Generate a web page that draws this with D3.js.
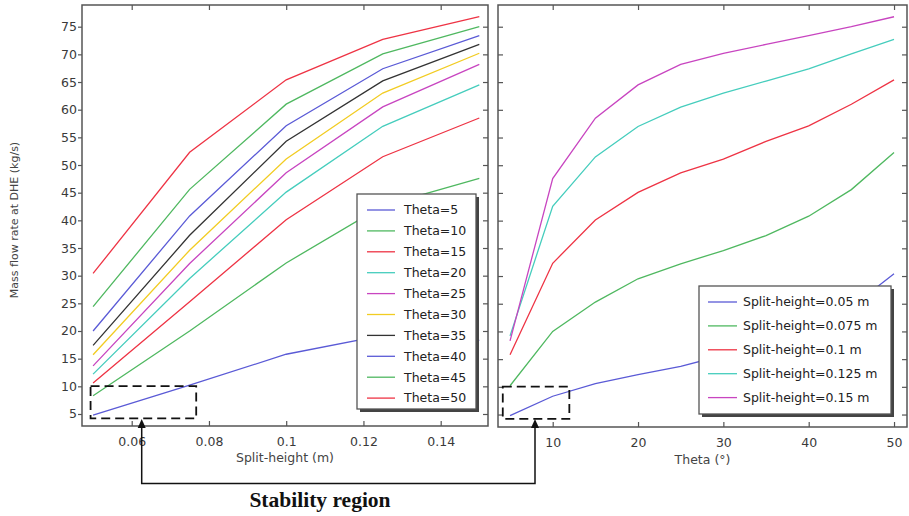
<!DOCTYPE html>
<html>
<head>
<meta charset="utf-8">
<script src="https://cdn.jsdelivr.net/npm/d3@7/dist/d3.min.js"></script>
<style>
  html, body { margin: 0; padding: 0; background: #fff; }
  svg { display: block; }
  text { font-family: "DejaVu Sans", sans-serif; }
</style>
</head>
<body>
<svg id="chart" width="909" height="516"></svg>
<script>
// ---------------- DATA ----------------
const splitHeights = [0.05, 0.075, 0.1, 0.125, 0.15];          // m
const thetas = [5, 10, 15, 20, 25, 30, 35, 40, 45, 50];        // degrees
const leftXTicks = [0.06, 0.08, 0.1, 0.12, 0.14];
const rightXTicks = [10, 20, 30, 40, 50];
const yTicks = [5, 10, 15, 20, 25, 30, 35, 40, 45, 50, 55, 60, 65, 70, 75];

// Mass flow rate (kg/s) vs split-height, one array per theta
const theta5  = [4.8, 10.2, 15.8, 19.2, 18.3];
const theta10 = [8.3, 20.0, 32.3, 42.6, 47.6];
const theta15 = [10.6, 25.3, 40.1, 51.5, 58.5];
const theta20 = [12.2, 29.5, 45.1, 57.0, 64.5];
const theta25 = [13.7, 32.2, 48.6, 60.5, 68.2];
const theta30 = [15.7, 34.6, 51.1, 63.0, 70.2];
const theta35 = [17.4, 37.3, 54.3, 65.2, 71.8];
const theta40 = [20.0, 40.8, 57.1, 67.4, 73.4];
const theta45 = [24.4, 45.6, 61.0, 70.1, 75.0];
const theta50 = [30.4, 52.3, 65.4, 72.7, 76.8];
const thetaSeries = [theta5, theta10, theta15, theta20, theta25, theta30, theta35, theta40, theta45, theta50];
const thetaLabels = thetas.map(t => "Theta=" + t);
const splitLabels = ["Split-height=0.05 m", "Split-height=0.075 m", "Split-height=0.1 m", "Split-height=0.125 m", "Split-height=0.15 m"];
const annotationText = "Stability region";

// ---------------- STYLE ----------------
const C = { blue: "#5a5ad6", green: "#4fb860", red: "#ee3344", cyan: "#45cdbd", magenta: "#c845c0", yellow: "#f2cc22", black: "#333333" };
const leftColors = [C.blue, C.green, C.red, C.cyan, C.magenta, C.yellow, C.black, C.blue, C.green, C.red];
const rightColors = [C.blue, C.green, C.red, C.cyan, C.magenta];

const svg = d3.select("#chart");
const L = { x0: 82, x1: 488, y0: 5, y1: 426 };
const R = { x0: 498, x1: 907, y0: 5, y1: 427 };

const yL = d3.scaleLinear().domain([2.83, 78.92]).range([L.y1, L.y0]);
const yR = d3.scaleLinear().domain([2.75, 78.92]).range([R.y1, R.y0]);
const xL = d3.scaleLinear().domain([0.04713, 0.15225]).range([L.x0, L.x1]);
const xR = d3.scaleLinear().domain([3.59, 51.52]).range([R.x0, R.x1]);

const defs = svg.append("defs");
defs.append("clipPath").attr("id", "clipL").append("rect")
  .attr("x", L.x0).attr("y", L.y0).attr("width", L.x1 - L.x0).attr("height", L.y1 - L.y0);
defs.append("clipPath").attr("id", "clipR").append("rect")
  .attr("x", R.x0).attr("y", R.y0).attr("width", R.x1 - R.x0).attr("height", R.y1 - R.y0);

function styleAxis(g) {
  g.select(".domain").remove();
  g.selectAll(".tick line").attr("stroke", "#555").attr("stroke-width", 1.2);
  g.selectAll(".tick text").attr("fill", "#3a3a3a").style("font-size", "12.5px").style("font-family", "DejaVu Sans, sans-serif");
}

// ---------- LEFT PANEL ----------
const gL = svg.append("g");
gL.append("g").attr("transform", `translate(0,${L.y1})`)
  .call(d3.axisBottom(xL).tickValues(leftXTicks).tickFormat(d3.format("~g")).tickSize(-5).tickPadding(11))
  .call(styleAxis);
gL.append("g").attr("transform", `translate(0,${L.y0})`)
  .call(d3.axisTop(xL).tickValues(leftXTicks).tickSize(-5).tickFormat(""))
  .call(styleAxis);
gL.append("g").attr("transform", `translate(${L.x0},0)`)
  .call(d3.axisLeft(yL).tickValues(yTicks).tickSize(4).tickPadding(1))
  .call(styleAxis);
gL.append("g").attr("transform", `translate(${L.x1},0)`)
  .call(d3.axisRight(yL).tickValues(yTicks).tickSize(-5).tickFormat(""))
  .call(styleAxis);

const lineL = d3.line().x((d, i) => xL(splitHeights[i])).y(d => yL(d));
gL.append("g").attr("clip-path", "url(#clipL)")
  .selectAll("path").data(thetaSeries).join("path")
  .attr("d", lineL).attr("fill", "none")
  .attr("stroke", (d, i) => leftColors[i]).attr("stroke-width", 1.3);

gL.append("rect").attr("x", L.x0).attr("y", L.y0).attr("width", L.x1 - L.x0).attr("height", L.y1 - L.y0)
  .attr("fill", "none").attr("stroke", "#555").attr("stroke-width", 1.5);

// ---------- RIGHT PANEL ----------
const gR = svg.append("g");
gR.append("g").attr("transform", `translate(0,${R.y1})`)
  .call(d3.axisBottom(xR).tickValues(rightXTicks).tickSize(-5).tickPadding(11))
  .call(styleAxis);
gR.append("g").attr("transform", `translate(0,${R.y0})`)
  .call(d3.axisTop(xR).tickValues(rightXTicks).tickSize(-5).tickFormat(""))
  .call(styleAxis);
gR.append("g").attr("transform", `translate(${R.x0},0)`)
  .call(d3.axisLeft(yR).tickValues(yTicks).tickSize(-5).tickFormat(""))
  .call(styleAxis);
gR.append("g").attr("transform", `translate(${R.x1},0)`)
  .call(d3.axisRight(yR).tickValues(yTicks).tickSize(-5).tickFormat(""))
  .call(styleAxis);

const rightSeries = splitHeights.map((s, j) => thetaSeries.map(arr => arr[j]));
const lineR = d3.line().x((d, i) => xR(thetas[i])).y(d => yR(d));
gR.append("g").attr("clip-path", "url(#clipR)")
  .selectAll("path").data(rightSeries).join("path")
  .attr("d", lineR).attr("fill", "none")
  .attr("stroke", (d, i) => rightColors[i]).attr("stroke-width", 1.3);

gR.append("rect").attr("x", R.x0).attr("y", R.y0).attr("width", R.x1 - R.x0).attr("height", R.y1 - R.y0)
  .attr("fill", "none").attr("stroke", "#555").attr("stroke-width", 1.5);

// ---------- LEGENDS ----------
function legend(box, labels, colors, rowStep, firstRow, lineX0, lineX1, textX) {
  const g = svg.append("g");
  g.append("rect").attr("x", box.x + 3).attr("y", box.y + 3).attr("width", box.w).attr("height", box.h).attr("fill", "#444");
  g.append("rect").attr("x", box.x).attr("y", box.y).attr("width", box.w).attr("height", box.h)
    .attr("fill", "#fff").attr("stroke", "#555").attr("stroke-width", 1.3);
  const rows = g.selectAll("g.row").data(labels).join("g").attr("class", "row")
    .attr("transform", (d, i) => `translate(0,${firstRow + i * rowStep})`);
  rows.append("line").attr("x1", lineX0).attr("x2", lineX1).attr("y1", 0).attr("y2", 0)
    .attr("stroke", (d, i) => colors[i]).attr("stroke-width", 1.3);
  rows.append("text").attr("x", textX).attr("y", 0).attr("dy", "0.35em")
    .attr("fill", "#222").style("font-size", "12.5px").text(d => d);
}
legend({ x: 357, y: 194, w: 119, h: 215 }, thetaLabels, leftColors, 20.9, 210, 367, 395, 404);
legend({ x: 699, y: 286, w: 192, h: 128 }, splitLabels, rightColors, 23.9, 302, 708, 737, 743);

// ---------- AXIS TITLES ----------
svg.append("text").attr("x", (L.x0 + L.x1) / 2).attr("y", 462).attr("text-anchor", "middle")
  .attr("fill", "#444").style("font-size", "12.5px").text("Split-height (m)");
svg.append("text").attr("x", (R.x0 + R.x1) / 2).attr("y", 464).attr("text-anchor", "middle")
  .attr("fill", "#444").style("font-size", "12.5px").text("Theta (°)");
svg.append("text").attr("transform", "translate(18,220) rotate(-90)").attr("text-anchor", "middle")
  .attr("fill", "#444").style("font-size", "11px").text("Mass flow rate at DHE (kg/s)");

// ---------- STABILITY ANNOTATION ----------
const ann = svg.append("g");
const dash = "9,5";
// dashed boxes around low-flow region (in data coordinates)
const boxL = { x0: 0.04935, x1: 0.0767, v0: 4.2, v1: 10.05 };
const boxR = { x0: 4.15, x1: 11.95, v0: 4.2, v1: 10.05 };
ann.append("rect").attr("x", xL(boxL.x0)).attr("y", yL(boxL.v1))
  .attr("width", xL(boxL.x1) - xL(boxL.x0)).attr("height", yL(boxL.v0) - yL(boxL.v1))
  .attr("fill", "none").attr("stroke", "#111").attr("stroke-width", 1.8).attr("stroke-dasharray", dash);
ann.append("rect").attr("x", xR(boxR.x0)).attr("y", yR(boxR.v1))
  .attr("width", xR(boxR.x1) - xR(boxR.x0)).attr("height", yR(boxR.v0) - yR(boxR.v1))
  .attr("fill", "none").attr("stroke", "#111").attr("stroke-width", 1.8).attr("stroke-dasharray", dash);

const ax1 = 141.7, ax2 = 535, tipY = 419, baseY = 483.5;
ann.append("path").attr("d", `M${ax1},${tipY + 7}V${baseY}H${ax2}V${tipY + 7}`)
  .attr("fill", "none").attr("stroke", "#111").attr("stroke-width", 1.5);
[ax1, ax2].forEach(x => {
  ann.append("path").attr("d", `M${x},${tipY}L${x - 4},${tipY + 9}L${x + 4},${tipY + 9}Z`).attr("fill", "#111");
});
ann.append("text").attr("x", 320).attr("y", 507).attr("text-anchor", "middle")
  .style("font-family", "'Liberation Serif', 'Times New Roman', serif").style("font-weight", "bold")
  .style("font-size", "21.5px").attr("fill", "#111").text(annotationText);
</script>
</body>
</html>
